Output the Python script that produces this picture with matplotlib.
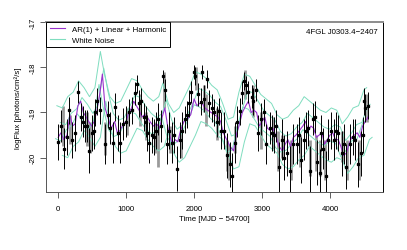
import matplotlib
matplotlib.use("Agg")
import matplotlib.pyplot as plt
from matplotlib.lines import Line2D

# light curve (30-day bins)
time = [0, 40, 84, 122, 160, 210, 245, 290, 330, 365,
        400, 425, 460, 490, 520, 545, 570, 610, 650, 690,
        730, 765, 813, 838, 875, 912, 960, 995, 1035, 1083,
        1123, 1157, 1190, 1220, 1260, 1285, 1310, 1340, 1375, 1415,
        1435, 1475, 1510, 1540, 1570, 1600, 1635, 1670, 1710, 1755,
        1790, 1820, 1870, 1900, 1930, 1960, 2000, 2020, 2060, 2100,
        2120, 2150, 2185, 2220, 2270, 2300, 2330, 2360, 2400, 2440,
        2490, 2530, 2555, 2600, 2630, 2675, 2700, 2740, 2760, 2800,
        2850, 2870, 2905, 2940, 2990, 3030, 3065, 3110, 3140, 3175,
        3210, 3250, 3290, 3330, 3360, 3410, 3460, 3510, 3545, 3580,
        3620, 3650, 3680, 3710, 3750, 3780, 3810, 3850, 3870, 3900,
        3940, 3970, 4020, 4060, 4090, 4120, 4170, 4210, 4240, 4290,
        4340, 4375, 4410, 4450, 4480, 4500, 4520, 4560]
log_flux = [-19.65, -19.3, -19.8, -19.55, -18.95, -19.6, -19.45, -18.55, -19.1, -19.2,
            -19.3, -19.3, -19.85, -19.45, -19.4, -19.0, -18.75, -18.95, -17.45, -19.7,
            -19.05, -19.35, -19.67, -18.88, -19.45, -19.67, -19.25, -19.2, -19.0, -18.95,
            -18.58, -18.37, -18.8, -18.75, -19.1, -19.2, -19.45, -19.67, -19.5, -19.55,
            -19.4, -19.15, -19.3, -18.2, -18.5, -19.7, -19.4, -19.67, -19.5, -20.24,
            -19.6, -19.4, -19.15, -19.05, -18.8, -18.55, -18.1, -18.2, -18.6, -18.76,
            -18.1, -18.7, -18.25, -18.8, -18.9, -19.0, -19.2, -18.97, -19.4, -19.4,
            -19.95, -20.15, -20.4, -19.67, -19.2, -18.97, -18.56, -18.3, -18.4, -18.55,
            -18.65, -18.75, -18.5, -19.45, -19.15, -19.0, -19.7, -19.35, -19.45, -19.5,
            -19.3, -20.2, -19.6, -20.0, -19.9, -20.3, -19.7, -19.7, -19.5, -20.05,
            -19.6, -19.4, -19.35, -20.3, -19.15, -19.1, -20.1, -20.35, -19.45, -19.8,
            -20.4, -19.6, -19.4, -19.6, -19.4, -19.45, -19.9, -19.7, -20.2, -19.7,
            -19.55, -19.6, -20.15, -19.9, -19.5, -18.75, -18.9, -18.85]
flux_err = [0.4, 0.35, 0.45, 0.4, 0.3, 0.4, 0.4, 0.25, 0.3, 0.35,
            0.35, 0.35, 0.5, 0.4, 0.4, 0.3, 0.3, 0.3, 0.1, 0.45,
            0.3, 0.35, 0.45, 0.3, 0.4, 0.45, 0.35, 0.35, 0.3, 0.3,
            0.25, 0.2, 0.3, 0.3, 0.3, 0.35, 0.4, 0.45, 0.4, 0.4,
            0.4, 0.35, 0.35, 0.15, 0.25, 0.45, 0.4, 0.45, 0.4, 0.5,
            0.4, 0.4, 0.3, 0.3, 0.3, 0.25, 0.15, 0.2, 0.25, 0.3,
            0.15, 0.3, 0.2, 0.3, 0.3, 0.3, 0.35, 0.3, 0.4, 0.4,
            0.5, 0.5, 0.5, 0.45, 0.35, 0.3, 0.25, 0.2, 0.2, 0.25,
            0.25, 0.3, 0.25, 0.4, 0.35, 0.3, 0.45, 0.35, 0.4, 0.4,
            0.35, 0.55, 0.45, 0.5, 0.5, 0.55, 0.45, 0.45, 0.4, 0.5,
            0.45, 0.4, 0.4, 0.55, 0.35, 0.35, 0.5, 0.55, 0.4, 0.45,
            0.55, 0.45, 0.4, 0.45, 0.4, 0.4, 0.5, 0.45, 0.5, 0.45,
            0.4, 0.45, 0.5, 0.5, 0.4, 0.3, 0.3, 0.3]

# grey bars (low/high) drawn behind the points
grey_time = [70, 175, 420, 470, 690, 1010, 1200, 1290, 1430, 1475,
             1560, 1640, 1810, 2030, 2150, 2180, 2340, 2480, 2520, 2600,
             2750, 2860, 2990, 3160, 3240, 3300, 3420, 3560, 3700, 3800,
             3860, 3930, 4180, 4250, 4420, 4540]
grey_low = [-19.75, -19.7, -19.75, -19.9, -19.95, -19.5, -19.3, -19.6, -19.9, -20.2,
            -18.9, -19.9, -20.0, -18.5, -19.0, -19.3, -19.6, -20.3, -20.5, -19.9,
            -18.7, -19.1, -19.8, -19.8, -20.3, -20.0, -20.5, -20.2, -20.4, -20.3,
            -20.4, -20.5, -20.1, -20.5, -20.5, -19.2]
grey_high = [-18.85, -19.05, -19.0, -19.2, -19.2, -18.9, -18.6, -19.0, -19.2, -19.3,
             -18.1, -19.3, -19.3, -18.0, -18.4, -18.6, -18.9, -19.6, -19.7, -19.3,
             -18.05, -18.4, -19.0, -19.1, -19.4, -19.5, -19.6, -19.5, -19.6, -19.5,
             -19.6, -19.6, -19.4, -19.6, -19.6, -18.6]

# AR(1) + Linear + Harmonic model
ar_time = [0, 40, 80, 130, 170, 210, 250, 290, 330, 370,
           410, 450, 490, 530, 570, 610, 650, 690, 740, 780,
           830, 870, 910, 960, 1000, 1040, 1080, 1110, 1150, 1190,
           1230, 1270, 1310, 1350, 1400, 1450, 1490, 1530, 1570, 1610,
           1650, 1680, 1720, 1760, 1800, 1850, 1900, 1950, 2000, 2040,
           2080, 2120, 2160, 2200, 2250, 2300, 2350, 2390, 2430, 2480,
           2530, 2580, 2620, 2660, 2710, 2760, 2800, 2840, 2880, 2920,
           2960, 3000, 3040, 3080, 3120, 3160, 3200, 3250, 3300, 3340,
           3380, 3420, 3460, 3500, 3550, 3600, 3640, 3680, 3720, 3760,
           3800, 3840, 3880, 3920, 3960, 4000, 4040, 4080, 4120, 4160,
           4200, 4240, 4280, 4320, 4360, 4400, 4440, 4480, 4520, 4560]
ar_model = [-19.55, -19.45, -19.6, -19.5, -19.05, -19.3, -19.25, -18.85, -18.75, -19.0,
            -19.1, -19.2, -19.3, -19.2, -18.95, -18.6, -18.15, -18.9, -19.15, -19.35,
            -19.2, -19.45, -19.4, -19.25, -19.2, -19.0, -18.9, -18.75, -18.85, -18.95,
            -19.1, -19.05, -19.1, -19.2, -19.3, -19.25, -19.35, -19.1, -18.9, -19.3,
            -19.55, -19.7, -19.6, -19.65, -19.4, -19.2, -19.15, -19.05, -18.7, -18.85,
            -18.8, -18.8, -18.9, -18.95, -19.0, -19.05, -19.1, -19.2, -19.45, -19.6,
            -19.75, -19.85, -19.5, -19.3, -19.0, -18.85, -18.75, -19.0, -18.95, -19.0,
            -19.3, -19.2, -19.1, -19.35, -19.4, -19.35, -19.5, -19.75, -19.85, -19.7,
            -19.6, -19.75, -19.55, -19.5, -19.4, -19.3, -19.2, -19.4, -19.3, -19.35,
            -19.55, -19.5, -19.45, -19.7, -19.6, -19.5, -19.45, -19.6, -19.6, -19.75,
            -19.95, -19.9, -19.7, -19.55, -19.5, -19.45, -19.55, -19.3, -19.2, -19.1]

# White noise model: central curve, drawn as four staggered band curves
wn_time = [0, 80, 160, 240, 320, 400, 480, 560, 640, 700,
           780, 860, 940, 1020, 1100, 1180, 1260, 1340, 1420, 1500,
           1560, 1640, 1720, 1800, 1880, 1960, 2040, 2120, 2200, 2280,
           2360, 2440, 2520, 2600, 2680, 2760, 2840, 2920, 3000, 3080,
           3160, 3240, 3320, 3400, 3480, 3560, 3640, 3720, 3800, 3880,
           3960, 4040, 4120, 4200, 4280, 4360, 4440, 4520, 4560]
wn_model = [-19.4, -19.45, -19.2, -19.1, -18.85, -19.0, -19.2, -19.0, -18.2, -18.7,
            -19.2, -19.35, -19.3, -19.05, -18.8, -18.85, -19.05, -19.2, -19.3, -19.2,
            -18.9, -19.35, -19.55, -19.45, -19.2, -18.95, -18.65, -18.7, -18.8, -18.95,
            -19.05, -19.35, -19.7, -19.65, -19.1, -18.7, -18.75, -18.95, -19.15, -19.25,
            -19.35, -19.6, -19.7, -19.65, -19.5, -19.4, -19.2, -19.3, -19.4, -19.5,
            -19.55, -19.45, -19.5, -19.8, -19.65, -19.45, -19.4, -19.05, -19.0]
wn_offsets = [-0.55, -0.18, 0.18, 0.55]
wn_shifts = [60, -40, 30, -20]

source_name = "4FGL J0303.4\u22122407"

plt.rcParams['font.family'] = ['Liberation Sans', 'DejaVu Sans']
plt.rcParams['font.size'] = 5.7

fig = plt.figure(figsize=(4.07, 2.51), dpi=100)
ax = fig.add_axes([0.113, 0.231, 0.828, 0.677])

purple = '#9932CC'
green = '#7FDDBF'

ax.vlines(grey_time, grey_low, grey_high, color='#9a9a9a', lw=2.0, zorder=1)
for off, sh in zip(wn_offsets, wn_shifts):
    ax.plot([t + sh for t in wn_time], [v + off for v in wn_model], color=green, lw=0.7,
            zorder=2)
ax.plot(ar_time, ar_model, color=purple, lw=0.8, zorder=3)
ax.errorbar(time, log_flux, yerr=flux_err, fmt='s', ms=1.4, color='black',
            ecolor='black', elinewidth=0.7, capsize=0, zorder=4)

ax.set_xlim(-180, 4780)
ax.set_ylim(-20.76, -17.42)
ax.set_xticks([0, 1000, 2000, 3000, 4000])
ax.set_yticks([-17, -18, -19, -20])
ax.set_yticklabels(['-17', '-18', '-19', '-20'], rotation=90, va='center')
ax.tick_params(direction='out', length=4, width=0.6, color='#444444')
ax.tick_params(axis='x', pad=5.5)
ax.tick_params(axis='y', pad=3)
ax.set_xlabel("Time [MJD \u2212 54700]", labelpad=2)
ax.set_ylabel("logFlux [photons/cm\u00b2/s]", labelpad=5)

ax.spines['top'].set_color('#8c8c8c')
ax.spines['top'].set_linewidth(1.4)
ax.spines['left'].set_color('#555555')
ax.spines['bottom'].set_color('#555555')
ax.spines['right'].set_color('black')
for s in ['left', 'bottom', 'right']:
    ax.spines[s].set_linewidth(0.7)

ax.text(0.985, 0.965, source_name, transform=ax.transAxes, ha='right', va='top')

handles = [Line2D([], [], color=purple, lw=0.8), Line2D([], [], color=green, lw=0.8)]
leg = ax.legend(handles, ["AR(1) + Linear + Harmonic", "White Noise"], loc='upper left',
                borderaxespad=0, fancybox=False, framealpha=1, edgecolor='black',
                handlelength=1.9, handletextpad=0.9, labelspacing=0.35, borderpad=0.45)
leg.get_frame().set_linewidth(0.7)

plt.savefig("out.png", dpi=100)
